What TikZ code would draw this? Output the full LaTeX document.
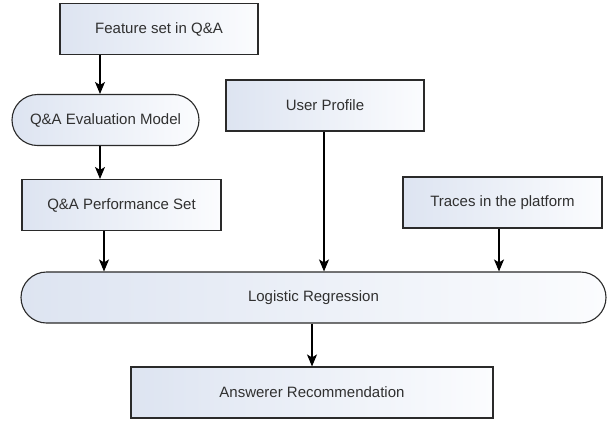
\documentclass[tikz,border=0pt]{standalone}
\usepackage{fontspec}
\setmainfont{Liberation Sans}
\usetikzlibrary{arrows.meta,shapes.misc}
\definecolor{boxleft}{HTML}{DDE4F1}
\definecolor{boxright}{HTML}{FBFCFE}
\definecolor{boxline}{HTML}{2A2A2A}
\definecolor{boxtext}{HTML}{303030}
\begin{document}
\begin{tikzpicture}[x=1pt, y=-1pt, line width=1.1pt,
  flow/.style={draw=boxline, left color=boxleft, right color=boxright, text=boxtext, font=\fontsize{15}{17}\selectfont, inner sep=0pt},
  proc node/.style={flow, rectangle, minimum height=51pt},
  term node/.style={flow, rounded rectangle, minimum height=51pt},
  arr/.style={-{Stealth[length=12pt,width=10pt,inset=3pt]}, draw=black, line width=1.1pt}]
\useasboundingbox (0,0) rectangle (612,424);
\begin{scope}
\node[proc node, minimum width=198pt] (feat) at (159,29) {Feature set in Q\&A};
\node[term node, minimum width=187pt] (eval) at (105.5,120) {Q\&A Evaluation Model};
\node[proc node, minimum width=199pt] (perf) at (121.5,205) {Q\&A Performance Set};
\node[proc node, minimum width=198pt] (user) at (325,105.5) {User Profile};
\node[proc node, minimum width=199pt] (trace) at (502.5,202.5) {Traces in the platform};
\node[term node, minimum width=585pt] (logit) at (313.5,297.5) {Logistic Regression};
\node[proc node, minimum width=362pt] (answer) at (312,392.5) {Answerer Recommendation};
\end{scope}
\begin{scope}
\draw[arr] (feat.south) ++(-59,0) coordinate (a1) -- (a1 |- eval.north);
\draw[arr] (eval.south) ++(-5.5,0) coordinate (a2) -- (a2 |- perf.north);
\draw[arr] (perf.south) ++(-17.5,0) coordinate (a3) -- (a3 |- logit.north);
\draw[arr] (user.south) ++(-1,0) coordinate (a4) -- (a4 |- logit.north);
\draw[arr] (trace.south) ++(-3.5,0) coordinate (a5) -- (a5 |- logit.north);
\draw[arr] (logit.south) ++(-1.5,0) coordinate (a6) -- (a6 |- answer.north);
\end{scope}
\end{tikzpicture}
\end{document}
